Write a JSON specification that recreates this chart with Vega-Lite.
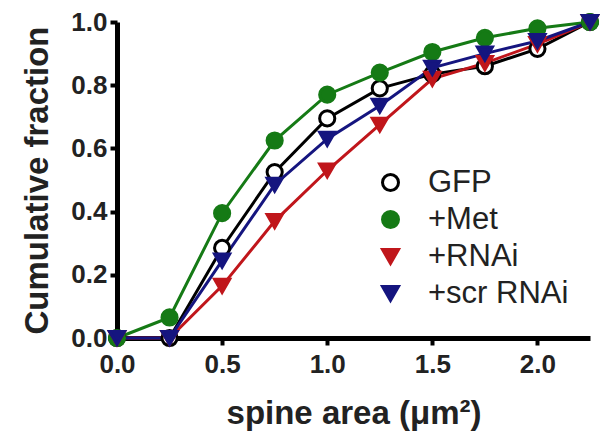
{
  "$schema": "https://vega.github.io/schema/vega-lite/v6.json",
  "width": 473,
  "height": 316,
  "autosize": {"type": "none"},
  "padding": {"left": 117, "top": 22, "right": 10, "bottom": 102},
  "background": "white",
  "config": {
    "view": {"stroke": null},
    "font": "Liberation Sans",
    "axis": {
      "grid": false,
      "domainColor": "black",
      "domainWidth": 5,
      "tickColor": "black",
      "tickWidth": 4,
      "tickSize": 7,
      "labelFlush": false,
      "labelOverlap": false,
      "labelFont": "Liberation Sans",
      "labelFontWeight": "bold",
      "labelFontSize": 26,
      "labelColor": "#222",
      "titleFont": "Liberation Sans",
      "titleFontWeight": "bold",
      "titleFontSize": 33,
      "titleColor": "#222"
    }
  },
  "data": {
    "values": [
      {"x": 0, "y": 0, "g": "GFP"},
      {"x": 0.25, "y": 0, "g": "GFP"},
      {"x": 0.5, "y": 0.285, "g": "GFP"},
      {"x": 0.75, "y": 0.525, "g": "GFP"},
      {"x": 1.0, "y": 0.695, "g": "GFP"},
      {"x": 1.25, "y": 0.79, "g": "GFP"},
      {"x": 1.5, "y": 0.835, "g": "GFP"},
      {"x": 1.75, "y": 0.86, "g": "GFP"},
      {"x": 2.0, "y": 0.915, "g": "GFP"},
      {"x": 2.25, "y": 1.0, "g": "GFP"},
      {"x": 0, "y": 0, "g": "+Met"},
      {"x": 0.25, "y": 0.065, "g": "+Met"},
      {"x": 0.5, "y": 0.395, "g": "+Met"},
      {"x": 0.75, "y": 0.625, "g": "+Met"},
      {"x": 1.0, "y": 0.77, "g": "+Met"},
      {"x": 1.25, "y": 0.84, "g": "+Met"},
      {"x": 1.5, "y": 0.905, "g": "+Met"},
      {"x": 1.75, "y": 0.95, "g": "+Met"},
      {"x": 2.0, "y": 0.98, "g": "+Met"},
      {"x": 2.25, "y": 1.0, "g": "+Met"},
      {"x": 0, "y": 0, "g": "+RNAi"},
      {"x": 0.25, "y": 0, "g": "+RNAi"},
      {"x": 0.5, "y": 0.165, "g": "+RNAi"},
      {"x": 0.75, "y": 0.37, "g": "+RNAi"},
      {"x": 1.0, "y": 0.53, "g": "+RNAi"},
      {"x": 1.25, "y": 0.675, "g": "+RNAi"},
      {"x": 1.5, "y": 0.82, "g": "+RNAi"},
      {"x": 1.75, "y": 0.87, "g": "+RNAi"},
      {"x": 2.0, "y": 0.93, "g": "+RNAi"},
      {"x": 2.25, "y": 1.0, "g": "+RNAi"},
      {"x": 0, "y": 0, "g": "+scr RNAi"},
      {"x": 0.25, "y": 0, "g": "+scr RNAi"},
      {"x": 0.5, "y": 0.245, "g": "+scr RNAi"},
      {"x": 0.75, "y": 0.485, "g": "+scr RNAi"},
      {"x": 1.0, "y": 0.63, "g": "+scr RNAi"},
      {"x": 1.25, "y": 0.735, "g": "+scr RNAi"},
      {"x": 1.5, "y": 0.855, "g": "+scr RNAi"},
      {"x": 1.75, "y": 0.9, "g": "+scr RNAi"},
      {"x": 2.0, "y": 0.94, "g": "+scr RNAi"},
      {"x": 2.25, "y": 1.0, "g": "+scr RNAi"}
    ]
  },
  "encoding": {
    "x": {
      "field": "x", "type": "quantitative",
      "scale": {"domain": [0, 2.25], "nice": false, "zero": false},
      "axis": {"values": [0, 0.5, 1.0, 1.5, 2.0], "format": ".1f", "title": "spine area (μm²)", "labelPadding": 6, "titlePadding": 20}
    },
    "y": {
      "field": "y", "type": "quantitative",
      "scale": {"domain": [0, 1], "nice": false},
      "axis": {"values": [0, 0.2, 0.4, 0.6, 0.8, 1.0], "format": ".1f", "title": "Cumulative fraction", "labelPadding": 3, "titlePadding": 16}
    }
  },
  "layer": [
    {
      "mark": {"type": "line", "strokeWidth": 3, "clip": false},
      "encoding": {
        "detail": {"field": "g"},
        "order": {"field": "x"},
        "color": {
          "field": "g", "type": "nominal",
          "scale": {"domain": ["GFP", "+Met", "+RNAi", "+scr RNAi"], "range": ["#000000", "#157a15", "#c0161b", "#15157f"]}
        }
      }
    },
    {
      "mark": {"type": "point", "filled": false, "opacity": 1, "strokeWidth": 3, "size": 230, "clip": false},
      "encoding": {
        "color": {
          "field": "g", "type": "nominal",
          "scale": {"domain": ["GFP", "+Met", "+RNAi", "+scr RNAi"], "range": ["#000000", "#157a15", "#c0161b", "#15157f"]},
          "legend": {
            "title": null,
            "orient": "none",
            "legendX": 258,
            "legendY": 145,
            "padding": 0,
            "labelFont": "Liberation Sans",
            "labelFontSize": 31,
            "labelColor": "#222",
            "labelOffset": 22,
            "rowPadding": 5,
            "symbolSize": 256,
            "symbolStrokeWidth": 3,
            "symbolOpacity": 1,
            "labelLimit": 300
          }
        },
        "fill": {
          "field": "g", "type": "nominal",
          "scale": {"domain": ["GFP", "+Met", "+RNAi", "+scr RNAi"], "range": ["#ffffff", "#157a15", "#c0161b", "#15157f"]},
          "legend": null
        },
        "shape": {
          "field": "g", "type": "nominal",
          "scale": {"domain": ["GFP", "+Met", "+RNAi", "+scr RNAi"], "range": ["circle", "circle", "triangle-down", "triangle-down"]},
          "legend": null
        }
      }
    }
  ]
}
